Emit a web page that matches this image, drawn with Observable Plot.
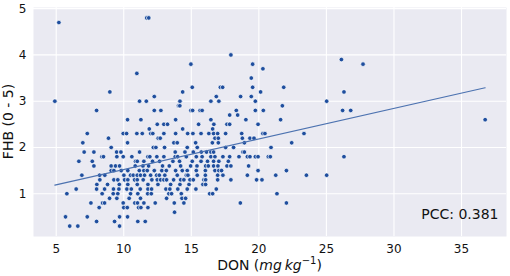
<!DOCTYPE html>
<html><head><meta charset="utf-8">
<script src="https://cdn.jsdelivr.net/npm/d3@7"></script>
<script src="https://cdn.jsdelivr.net/npm/@observablehq/plot@0.6"></script>
<style>body{margin:0;background:#fff;font-family:"DejaVu Sans",sans-serif}</style>
</head><body><div id="chart"></div>
<script>
// FHB score levels (y) and the DON values (x) of the samples observed at each level
const fhbLevel = [4.8,4.7,4.0,3.9,3.8,3.7,3.6,3.5,3.3,3.2,3.1,3.0,2.9,2.8,2.7,2.6,2.5,2.4,2.3,2.2,2.1,2.0,1.9,1.8,1.7,1.6,1.5,1.4,1.3,1.2,1.1,1.0,0.9,0.8,0.7,0.6,0.5,0.4,0.3];
const donAtLevel = [
  [11.7,11.85],
  [5.2],
  [17.93],
  [26.11],
  [14.97,19.54,27.71],
  [20.3],
  [10.97],
  [19.44],
  [15.07,17.15,17.32,19.54,21.84],
  [8.97,14.36,20.13,26.3],
  [12.26,16.85,18.65,19.44],
  [4.9,11.17,11.67,14.16,16.45,17.04,19.74,25.02],
  [14.05,14.15,21.74],
  [7.99,12.26,12.75,14.97,15.1,15.65,15.8,18.33,19.74,20.33,26.2,26.8],
  [17.84,18.43],
  [10.28,11.27,13.84,16.45,19.04,21.61,36.75],
  [12.48,12.97,13.24,15.54,16.67,17.64,17.84,19.94],
  [11.89,14.36,16.58],
  [7.3,9.96,10.21,10.97,11.37,12.0,12.15,12.97,13.84,14.73,15.12,15.72,16.3,16.65,16.95,17.54,18.73,20.3,20.45,23.34],
  [8.87,12.55,12.7,16.75,17.0,18.78,19.34,19.64],
  [6.97,10.28,13.71,13.96,15.32,16.56,17.0,18.93,22.43],
  [9.07,12.19,12.38,13.02,14.7,15.44,17.54,18.13,20.9],
  [7.07,7.79,9.47,9.79,11.17,13.81,14.53,15.15,15.74,16.13,16.45,16.65,18.82,18.93],
  [8.38,8.5,9.49,9.96,10.6,11.79,11.93,12.45,12.97,13.81,13.99,14.63,15.37,15.8,16.45,16.75,17.34,17.84,18.53,19.15,19.34,19.74,19.94,20.7,20.85,26.3],
  [6.68,7.67,10.87,11.0,11.49,12.13,12.65,13.64,14.13,15.07,15.72,16.2,16.65,17.04,17.74],
  [7.79,9.07,9.39,9.69,10.85,11.42,11.84,12.87,13.37,14.21,14.95,15.42,16.06,16.26,16.65,16.97,17.64,17.93,19.24],
  [9.07,9.27,9.81,10.3,11.15,11.49,11.74,12.26,12.82,13.15,13.84,14.33,14.7,15.37,16.04,16.75,17.04,17.24,19.94,22.04],
  [6.9,8.21,8.6,10.01,10.5,10.7,11.0,11.24,11.54,11.99,12.43,12.63,13.04,13.96,14.63,14.75,15.44,16.04,16.95,17.34,19.15,21.25,23.52,25.02],
  [8.23,9.27,9.56,10.06,10.3,10.8,11.0,11.44,12.08,12.48,12.73,12.97,13.17,13.69,14.21,14.45,14.9,15.15,15.93,16.06,16.95,17.93,19.83,20.23],
  [8.01,8.8,9.67,10.3,11.0,11.79,12.53,13.47,14.16,14.83,15.86,16.06],
  [6.48,7.99,8.58,9.24,9.64,10.23,10.56,11.22,11.79,12.06,13.12,13.41,14.0,14.7,15.34,16.85],
  [5.79,8.4,9.22,9.56,10.5,11.04,11.77,12.04,13.34,13.54,14.26,16.36,16.58,21.34],
  [8.95,9.49,10.4,11.24,13.17,14.31,14.58],
  [7.57,8.43,8.58,9.96,10.82,11.02,11.49,12.33,13.74,14.45,18.63,22.04],
  [8.18,10.0,10.26,11.1,11.27,11.79],
  [13.76],
  [5.69,7.3,9.69,10.28],
  [7.99,9.32,11.04,11.59],
  [6.0,6.6,9.69]
];
const xTicks = [5,10,15,20,25,30,35];
const yTicks = [1,2,3,4,5];
const pccLabel = "PCC: 0.381";

const samples = fhbLevel.flatMap((f, i) => donAtLevel[i].map(d => ({don: d, fhb: f})));

const bg = "#EAEAF2";
const chart = Plot.plot({
  width: 510, height: 276,
  marginLeft: 33, marginRight: 4, marginTop: 7, marginBottom: 40,
  style: {fontFamily: "DejaVu Sans, sans-serif", fontSize: "12px", background: "#fff", color: "#222"},
  x: {domain: [3.32, 38.33], ticks: xTicks, label: null},
  y: {domain: [0.075, 5.025], ticks: yTicks, label: null},
  marks: [
    Plot.frame({fill: bg, stroke: "none"}),
    Plot.gridX(xTicks, {stroke: "#fff", strokeOpacity: 1, strokeWidth: 1.1}),
    Plot.gridY(yTicks, {stroke: "#fff", strokeOpacity: 1, strokeWidth: 1.1}),
    Plot.axisX(xTicks, {tickSize: 0, tickPadding: 8, fontSize: 12, fill: "#111"}),
    Plot.axisY(yTicks, {tickSize: 0, tickPadding: 7, fontSize: 12, fill: "#111"}),
    Plot.dot(samples, {x: "don", y: "fhb", r: 2.3, fill: "#1f4e9e", stroke: "#fff", strokeWidth: 0.7}),
    Plot.linearRegressionY(samples, {x: "don", y: "fhb", stroke: "#4c72b0", strokeWidth: 1.2, ci: 0}),
    Plot.text([pccLabel], {frameAnchor: "bottom-right", dx: -8, dy: -18, fontSize: 14, fill: "#111", textAnchor: "end"})
  ]
});
document.getElementById("chart").appendChild(chart);

const svg = d3.select(chart);
const xl = svg.append("text")
  .attr("x", 269.5).attr("y", 270).attr("text-anchor", "middle")
  .attr("font-size", 14).attr("fill", "#111");
xl.append("tspan").text("DON (");
xl.append("tspan").attr("font-style", "italic").text("mg");
xl.append("tspan").text("\u2009");
xl.append("tspan").attr("font-style", "italic").text("kg");
xl.append("tspan").attr("font-size", "10").attr("dy", "-6").text("\u22121");
xl.append("tspan").attr("dy", "6").text(")");

svg.append("text")
  .attr("transform", "translate(13,121.5) rotate(-90)")
  .attr("text-anchor", "middle")
  .attr("font-size", 14).attr("fill", "#111")
  .text("FHB (0 - 5)");
</script>
</body></html>
